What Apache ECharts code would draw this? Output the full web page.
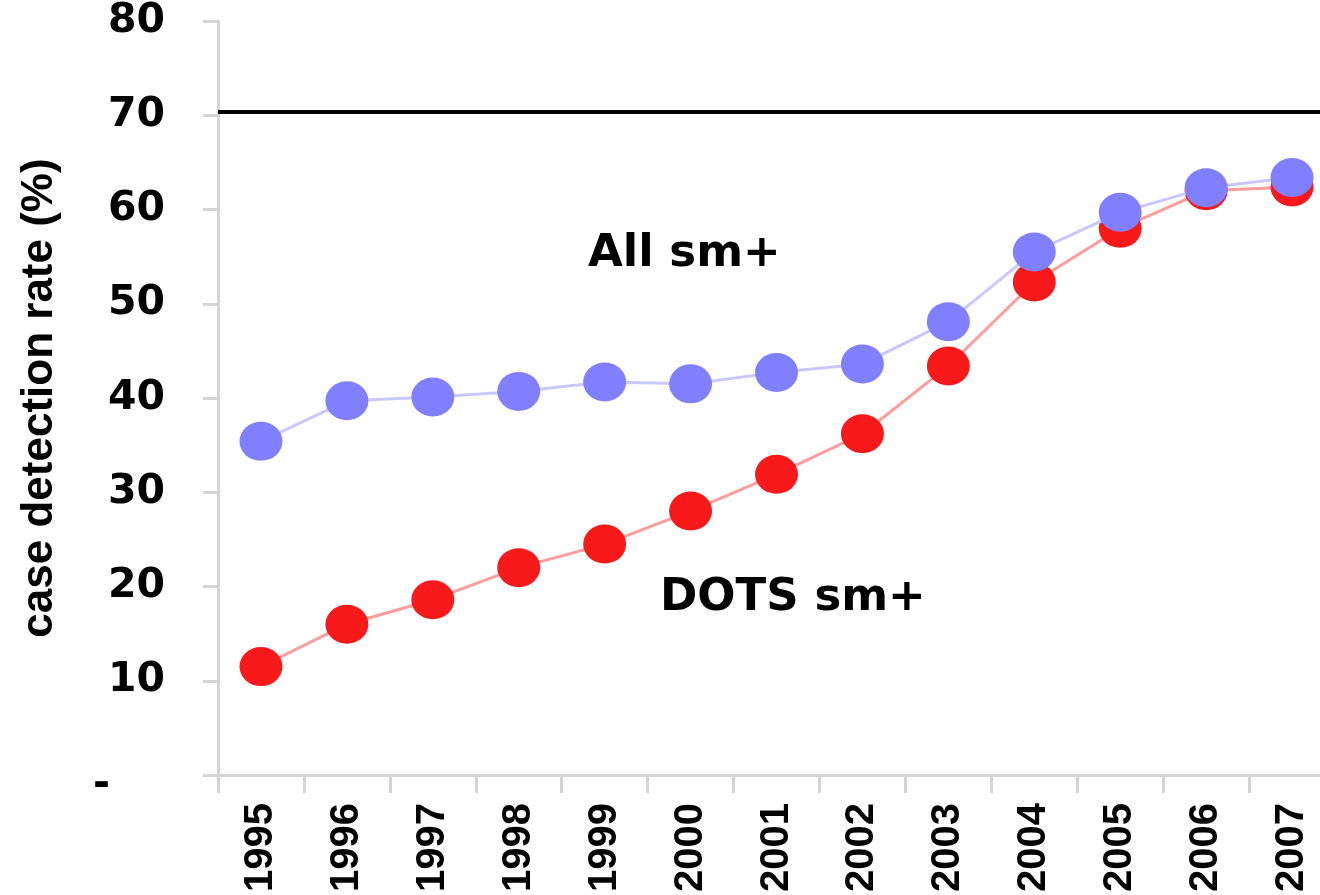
<!DOCTYPE html>
<html>
<head>
<meta charset="utf-8">
<script src="https://cdn.jsdelivr.net/npm/echarts@6/dist/echarts.min.js"></script>
<style>
html,body{margin:0;padding:0;background:#fff;}
#chart{width:1320px;height:895px;}
</style>
</head>
<body>
<div id="chart"></div>
<script>
const years = ['1995','1996','1997','1998','1999','2000','2001','2002','2003','2004','2005','2006','2007'];
const allSm = [35.4, 39.7, 40.1, 40.7, 41.7, 41.5, 42.7, 43.6, 48.1, 55.5, 59.7, 62.3, 63.4];
const dotsSm = [11.5, 16.0, 18.6, 22.0, 24.5, 28.0, 31.9, 36.2, 43.4, 52.3, 58.0, 62.0, 62.4];
const targetValue = [70.4];
const yTicks = {min: 0, max: 80, interval: 10};
const yTitle = 'case detection rate (%)';
const labelAll = 'All sm+';
const labelDots = 'DOTS sm+';

const FONT = 'DejaVu Sans';
const FONT2 = 'Liberation Sans';
const chart = echarts.init(document.getElementById('chart'), null, {renderer: 'canvas'});
chart.setOption({
  animation: false,
  backgroundColor: '#ffffff',
  grid: {left: 218, right: -15, top: 21, bottom: 120, containLabel: false, outerBoundsMode: 'none'},
  xAxis: {
    type: 'category',
    data: years,
    boundaryGap: true,
    axisLine: {show: true, lineStyle: {color: '#d4d4d4', width: 3}},
    axisTick: {show: true, length: 18, alignWithLabel: false, lineStyle: {color: '#d4d4d4', width: 3}},
    axisLabel: {rotate: 90, margin: 28, color: '#000', fontFamily: FONT2, fontWeight: 'bold', fontSize: 40},
    splitLine: {show: false}
  },
  yAxis: {
    type: 'value',
    min: yTicks.min, max: yTicks.max, interval: yTicks.interval,
    name: yTitle,
    nameLocation: 'middle',
    nameRotate: 90,
    nameGap: 156,
    nameTextStyle: {color: '#000', fontFamily: FONT2, fontWeight: 'bold', fontSize: 44},
    axisLine: {show: true, lineStyle: {color: '#d4d4d4', width: 3}},
    axisTick: {show: true, length: 15, lineStyle: {color: '#d4d4d4', width: 3}},
    axisLabel: {margin: 53, color: '#000', fontFamily: FONT, fontWeight: 'bold', fontSize: 41,
      formatter: v => v === 0 ? '{dash|-}' : String(v),
      rich: {dash: {fontFamily: FONT, fontWeight: 'bold', fontSize: 41, color: '#000', padding: [20, 55, 0, 0]}}},
    splitLine: {show: false}
  },
  series: [
    {
      name: labelDots, type: 'line', data: dotsSm,
      symbol: 'circle', symbolSize: [43, 39],
      itemStyle: {color: '#f81a1a'},
      lineStyle: {color: '#ff9c9c', width: 3},
      z: 2,
      markLine: {
        silent: true, symbol: 'none', label: {show: false},
        lineStyle: {color: '#000', width: 4, type: 'solid'},
        data: [{yAxis: targetValue[0]}]
      }
    },
    {
      name: labelAll, type: 'line', data: allSm,
      symbol: 'circle', symbolSize: [43, 39],
      itemStyle: {color: '#8080ff'},
      lineStyle: {color: '#c8c8ff', width: 3},
      z: 3
    }
  ],
  graphic: [
    {type: 'text', left: 588, top: 232, style: {text: labelAll, fill: '#000', font: 'bold 45px "DejaVu Sans"'}},
    {type: 'text', left: 660, top: 576, style: {text: labelDots, fill: '#000', font: 'bold 45px "DejaVu Sans"'}}
  ]
});
</script>
</body>
</html>
